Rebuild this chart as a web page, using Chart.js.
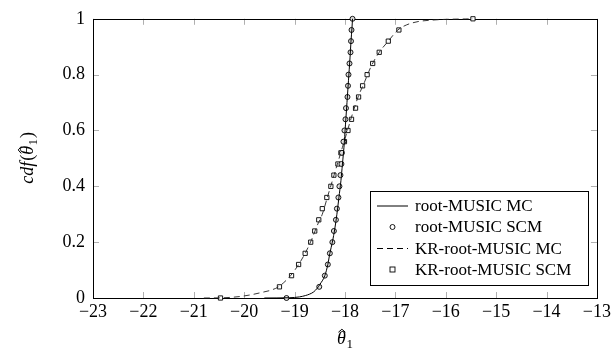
<!DOCTYPE html>
<html>
<head>
<meta charset="utf-8">
<script src="https://cdn.jsdelivr.net/npm/chart.js@4"></script>
<style>
  html, body { margin: 0; padding: 0; background: #fff; }
  #wrap { width: 614px; height: 358px; }
</style>
</head>
<body>
<div id="wrap"><canvas id="cdf-chart"></canvas></div>
<script>
// cdf levels for the SCM markers (k/25)
const cdfLevels = [0, 0.04, 0.08, 0.12, 0.16, 0.20, 0.24, 0.28, 0.32, 0.36, 0.40, 0.44, 0.48,
                   0.52, 0.56, 0.60, 0.64, 0.68, 0.72, 0.76, 0.80, 0.84, 0.88, 0.92, 0.96, 1.0];

// root-MUSIC SCM (circles)
const rootScmX = [-19.16, -18.51, -18.40, -18.34, -18.30, -18.25, -18.22, -18.18, -18.16, -18.13,
                  -18.11, -18.09, -18.07, -18.06, -18.03, -18.01, -17.99, -17.98, -17.95, -17.94,
                  -17.93, -17.91, -17.89, -17.88, -17.87, -17.85];

// KR-root-MUSIC SCM (squares)
const krScmX = [-20.47, -19.30, -19.06, -18.92, -18.79, -18.68, -18.60, -18.52, -18.45, -18.36,
                -18.28, -18.22, -18.14, -18.08, -18.01, -17.94, -17.87, -17.79, -17.73, -17.65,
                -17.56, -17.45, -17.32, -17.14, -16.93, -15.46];

// root-MUSIC MC (solid curve)
const rootMcX = [-19.6, -19.1, -18.9, -18.78, -18.70, -18.62, -18.55, -18.50, -18.40, -18.34, -18.30,
                 -18.25, -18.20, -18.16, -18.12, -18.08, -18.05, -18.02, -17.99, -17.96, -17.93,
                 -17.90, -17.88, -17.86, -17.85];
const rootMcY = [0, 0.001, 0.004, 0.009, 0.014, 0.022, 0.035, 0.048, 0.08, 0.12, 0.16,
                 0.20, 0.25, 0.30, 0.36, 0.42, 0.48, 0.54, 0.62, 0.70, 0.78,
                 0.86, 0.92, 0.97, 1.0];

// KR-root-MUSIC MC (dashed curve)
const krMcX = [-20.8, -20.4, -20.1, -19.85, -19.65, -19.47, -19.32, -19.08, -18.92, -18.79, -18.66,
               -18.55, -18.45, -18.35, -18.25, -18.15, -18.05, -17.95, -17.85, -17.74, -17.62,
               -17.48, -17.32, -17.14, -16.95, -16.78, -16.55, -16.30, -16.0, -15.6, -15.46];
const krMcY = [0, 0.001, 0.005, 0.012, 0.020, 0.028, 0.040, 0.08, 0.12, 0.16, 0.21,
               0.26, 0.30, 0.36, 0.42, 0.48, 0.54, 0.60, 0.66, 0.72, 0.77,
               0.83, 0.88, 0.92, 0.96, 0.978, 0.99, 0.995, 0.998, 0.9995, 1.0];

const xTicks = [-23, -22, -21, -20, -19, -18, -17, -16, -15, -14, -13];
const yTicks = [0, 0.2, 0.4, 0.6, 0.8, 1];

const legendLabels = ['root-MUSIC MC', 'root-MUSIC SCM', 'KR-root-MUSIC MC', 'KR-root-MUSIC SCM'];

function toPoints(xs, ys) {
    return xs.map((x, i) => ({ x: x, y: ys[i] }));
}

const serif = "'Liberation Serif', 'DejaVu Serif', serif";

// frame with inward ticks, like pgfplots
const framePlugin = {
    id: 'frame',
    beforeDatasetsDraw(chart) {
        const { ctx, chartArea, scales } = chart;
        const { left, right, top, bottom } = chartArea;
        ctx.save();
        ctx.strokeStyle = '#9a9a9a';
        ctx.lineWidth = 0.8;
        ctx.beginPath();
        scales.x.ticks.forEach(t => {
            const px = Math.round(scales.x.getPixelForValue(t.value)) + 0.5;
            ctx.moveTo(px, bottom); ctx.lineTo(px, bottom - 6);
            ctx.moveTo(px, top); ctx.lineTo(px, top + 6);
        });
        scales.y.ticks.forEach(t => {
            const py = Math.round(scales.y.getPixelForValue(t.value)) + 0.5;
            ctx.moveTo(left, py); ctx.lineTo(left + 6, py);
            ctx.moveTo(right, py); ctx.lineTo(right - 6, py);
        });
        ctx.stroke();
        ctx.strokeStyle = '#000';
        ctx.lineWidth = 1;
        ctx.strokeRect(Math.round(left) + 0.5, Math.round(top) + 0.5,
                       Math.round(right - left), Math.round(bottom - top));
        ctx.restore();
    }
};

// theta with a hat and subscript 1, drawn at baseline (x, y); returns width
function drawThetaHat(ctx, x, y, size) {
    ctx.font = 'italic ' + size + 'px ' + serif;
    ctx.fillText('θ', x, y);
    const w = ctx.measureText('θ').width;
    const cx = x + w * 0.55;
    const hy = y - size * 0.82;
    ctx.beginPath();
    ctx.lineWidth = 1;
    ctx.moveTo(cx - 3.5, hy + 3);
    ctx.lineTo(cx, hy);
    ctx.lineTo(cx + 3.5, hy + 3);
    ctx.stroke();
    ctx.font = Math.round(size * 0.7) + 'px ' + serif;
    ctx.fillText('1', x + w + 0.5, y + size * 0.22);
    return w + 0.5 + ctx.measureText('1').width;
}

function measureThetaHat(ctx, size) {
    ctx.font = 'italic ' + size + 'px ' + serif;
    const w = ctx.measureText('θ').width;
    ctx.font = Math.round(size * 0.7) + 'px ' + serif;
    return w + 0.5 + ctx.measureText('1').width;
}

// axis titles
const titlePlugin = {
    id: 'mathTitles',
    afterDraw(chart) {
        const { ctx, chartArea } = chart;
        const size = 18;
        ctx.save();
        ctx.fillStyle = '#000';
        ctx.strokeStyle = '#000';
        ctx.textAlign = 'left';
        ctx.textBaseline = 'alphabetic';

        // x title
        const xw = measureThetaHat(ctx, size);
        const xc = (chartArea.left + chartArea.right) / 2;
        drawThetaHat(ctx, xc - xw / 2, 344, size);

        // y title, rotated
        ctx.save();
        ctx.translate(33, (chartArea.top + chartArea.bottom) / 2);
        ctx.rotate(-Math.PI / 2);
        ctx.font = 'italic ' + size + 'px ' + serif;
        const w1 = ctx.measureText('cdf').width;
        ctx.font = size + 'px ' + serif;
        const wp = ctx.measureText('(').width;
        const wq = ctx.measureText(')').width;
        const tw = measureThetaHat(ctx, size);
        let px = -(w1 + wp + tw + 1 + wq) / 2;
        ctx.font = 'italic ' + size + 'px ' + serif;
        ctx.fillText('cdf', px, 0); px += w1 + 1;
        ctx.font = size + 'px ' + serif;
        ctx.fillText('(', px, 0); px += wp;
        px += drawThetaHat(ctx, px, 0, size) + 1;
        ctx.font = size + 'px ' + serif;
        ctx.fillText(')', px, 0);
        ctx.restore();

        ctx.restore();
    }
};

// legend box in the lower right of the plot
const legendPlugin = {
    id: 'boxLegend',
    afterDraw(chart) {
        const { ctx } = chart;
        const bx = 370.5, by = 191.5, bw = 218, bh = 94;
        ctx.save();
        ctx.fillStyle = '#fff';
        ctx.fillRect(bx, by, bw, bh);
        ctx.strokeStyle = '#000';
        ctx.lineWidth = 1;
        ctx.strokeRect(bx, by, bw, bh);
        const rowY = [206, 227, 248.5, 269.5];
        ctx.textBaseline = 'middle';
        ctx.fillStyle = '#000';
        chart.data.datasets.forEach((ds, i) => {
            const y = rowY[i];
            if (ds.showLine !== false) {
                ctx.beginPath();
                ctx.lineWidth = 1;
                ctx.strokeStyle = '#000';
                ctx.setLineDash(ds.borderDash || []);
                ctx.moveTo(377, y); ctx.lineTo(408, y);
                ctx.stroke();
                ctx.setLineDash([]);
            } else {
                ctx.lineWidth = 0.9;
                ctx.strokeStyle = '#000';
                ctx.fillStyle = '#fff';
                if (ds.pointStyle === 'rect') {
                    ctx.fillRect(390, y - 2.5, 5, 5);
                    ctx.strokeRect(390, y - 2.5, 5, 5);
                } else {
                    ctx.beginPath();
                    ctx.arc(392.5, y, 2.5, 0, Math.PI * 2);
                    ctx.fill(); ctx.stroke();
                }
                ctx.fillStyle = '#000';
            }
            ctx.font = '17px ' + serif;
            ctx.fillText(legendLabels[i], 415, y + 1);
        });
        ctx.restore();
    }
};

new Chart(document.getElementById('cdf-chart'), {
    type: 'scatter',
    data: {
        datasets: [
            {
                label: legendLabels[0],
                data: toPoints(rootMcX, rootMcY),
                showLine: true,
                borderColor: '#000',
                borderWidth: 1,
                pointRadius: 0,
                cubicInterpolationMode: 'monotone',
                clip: false
            },
            {
                label: legendLabels[1],
                data: toPoints(rootScmX, cdfLevels),
                showLine: false,
                pointStyle: 'circle',
                pointRadius: 2.5,
                pointBorderWidth: 0.9,
                pointBackgroundColor: '#ddd',
                pointBorderColor: '#000',
                clip: false
            },
            {
                label: legendLabels[2],
                data: toPoints(krMcX, krMcY),
                showLine: true,
                borderColor: '#222',
                borderWidth: 0.9,
                borderDash: [6, 4],
                pointRadius: 0,
                cubicInterpolationMode: 'monotone',
                clip: false
            },
            {
                label: legendLabels[3],
                data: toPoints(krScmX, cdfLevels),
                showLine: false,
                pointStyle: 'rect',
                pointRadius: 3,
                pointBorderWidth: 0.9,
                pointBackgroundColor: '#fff',
                pointBorderColor: '#000',
                clip: false
            }
        ]
    },
    options: {
        responsive: true,
        maintainAspectRatio: false,
        animation: false,
        layout: { padding: { left: 0, top: 18, right: 17, bottom: 0 } },
        plugins: {
            legend: { display: false },
            tooltip: { enabled: false }
        },
        scales: {
            x: {
                type: 'linear',
                min: -23,
                max: -13,
                afterFit: s => { s.height = 60; },
                afterBuildTicks: s => { s.ticks = xTicks.map(v => ({ value: v })); },
                grid: { display: false, drawTicks: false },
                border: { display: false },
                ticks: {
                    padding: 3,
                    color: '#000',
                    font: { family: serif, size: 18 },
                    maxRotation: 0,
                    callback: v => (v < 0 ? '\u2212' + Math.abs(v) : String(v))
                }
            },
            y: {
                type: 'linear',
                min: 0,
                max: 1,
                afterFit: s => { s.width = 93; },
                afterBuildTicks: s => { s.ticks = yTicks.map(v => ({ value: v })); },
                grid: { display: false, drawTicks: false },
                border: { display: false },
                ticks: {
                    padding: 8,
                    color: '#000',
                    font: { family: serif, size: 18 },
                    callback: v => String(Math.round(v * 10) / 10)
                }
            }
        }
    },
    plugins: [framePlugin, titlePlugin, legendPlugin]
});
</script>
</body>
</html>
